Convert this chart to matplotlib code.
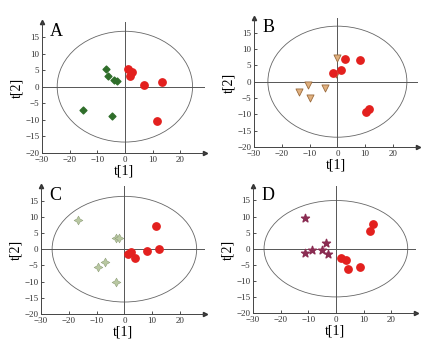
import numpy as np
import matplotlib
matplotlib.use("Agg")
from matplotlib import pyplot as plt
from matplotlib.patches import Ellipse

plt.rcParams['font.family'] = ['Liberation Serif', 'DejaVu Serif']

# red group (shared colour in all panels)
a_red_x = [1.0, 2.5, 1.8, 7.0, 13.5, 11.7]
a_red_y = [5.3, 4.5, 3.2, 0.6, 1.5, -10.5]
a_grp_x = [-6.9, -6.1, -4.0, -3.0, -15.0, -4.6]
a_grp_y = [5.3, 3.2, 1.9, 1.7, -7.1, -8.7]

b_red_x = [2.8, 8.0, 1.3, -1.4, 11.3, 10.4]
b_red_y = [7.0, 6.7, 3.6, 2.6, -8.5, -9.2]
b_grp_x = [0.0, -0.6, -10.7, -13.8, -10.0, -4.6]
b_grp_y = [7.4, 2.5, -0.9, -3.3, -4.9, -1.9]

c_red_x = [11.2, 12.3, 8.1, 2.4, 1.4, 3.9]
c_red_y = [7.2, 0.1, -0.5, -1.0, -1.5, -2.8]
c_grp_x = [-16.7, -3.1, -1.9, -7.1, -9.4, -3.1]
c_grp_y = [9.1, 3.4, 3.4, -3.8, -5.6, -10.2]

d_red_x = [13.6, 12.5, 1.8, 3.6, 4.4, 8.6]
d_red_y = [7.6, 5.5, -2.9, -3.5, -6.3, -5.7]
d_grp_x = [-11.0, -3.5, -11.0, -8.6, -5.0, -2.7]
d_grp_y = [9.5, 1.7, -1.3, -0.5, -0.5, -1.7]

# ellipse half-widths / half-heights
ell_w = [24.5, 25.0, 26.0, 26.0]
ell_h = [16.7, 17.0, 16.3, 15.0]

letters = ["A", "B", "C", "D"]
ticks_x = [-30, -20, -10, 0, 10, 20]
ticks_y = [-20, -15, -10, -5, 0, 5, 10, 15]

fig = plt.figure(figsize=(4.3, 3.47), dpi=100)
W, H = 430.0, 347.0

# pixel boxes: left, right, top, bottom
boxes = [(42, 205, 22, 153), (254, 418, 18, 147),
         (41, 205, 186, 314), (253, 416, 186, 313)]

panels = [
    (a_red_x, a_red_y, a_grp_x, a_grp_y, dict(marker="D", s=12, c="#2f6e2a", edgecolors="#2f6e2a")),
    (b_red_x, b_red_y, b_grp_x, b_grp_y, dict(marker="v", s=26, c="#e0b07e", edgecolors="#9a6a3c", linewidths=0.6)),
    (c_red_x, c_red_y, c_grp_x, c_grp_y, None),
    (d_red_x, d_red_y, d_grp_x, d_grp_y, dict(marker="*", s=36, c="#8a2c52", edgecolors="#8a2c52")),
]

for i, (rx, ry, gx, gy, style) in enumerate(panels):
    l, r, t, b = boxes[i]
    ax = fig.add_axes([l / W, (H - b) / H, (r - l) / W, (b - t) / H])
    ax.set_xlim(-30, 29)
    ax.set_ylim(-20, 19.5)
    for s in ["top", "right"]:
        ax.spines[s].set_visible(False)
    for s in ["left", "bottom"]:
        ax.spines[s].set_color("#444444")
        ax.spines[s].set_linewidth(0.7)
    ax.plot(1, 0, ">", color="#333333", ms=3, transform=ax.transAxes, clip_on=False)
    ax.plot(0, 1, "^", color="#333333", ms=3, transform=ax.transAxes, clip_on=False)
    ax.axhline(0, color="#555555", lw=0.7)
    ax.axvline(0, color="#555555", lw=0.7)
    ax.add_patch(Ellipse((0, 0), 2 * ell_w[i], 2 * ell_h[i], fill=False,
                         ec="#666666", lw=0.6))
    if style is None:
        ax.scatter(gx, gy, marker=(4, 1, 0), s=40, c="#b9c8a2",
                   edgecolors="#8e9e78", linewidths=0.4, zorder=3)
    else:
        ax.scatter(gx, gy, zorder=3, **style)
    ax.scatter(rx, ry, marker="o", s=28, c="#e3201e", edgecolors="#e3201e", zorder=3)
    ax.set_xticks(ticks_x)
    ax.set_yticks(ticks_y)
    ax.tick_params(direction="in", length=2, width=0.6, labelsize=6.5,
                   colors="#333333")
    ax.tick_params(axis="x", pad=2.5)
    ax.tick_params(axis="y", pad=2)
    ax.set_xlabel("t[1]", fontsize=10, labelpad=0)
    ax.set_ylabel("t[2]", fontsize=10, labelpad=1)
    ax.text(0.05, 0.99, letters[i], transform=ax.transAxes, fontsize=13,
            va="top", ha="left")

plt.savefig("out.png", dpi=100)
